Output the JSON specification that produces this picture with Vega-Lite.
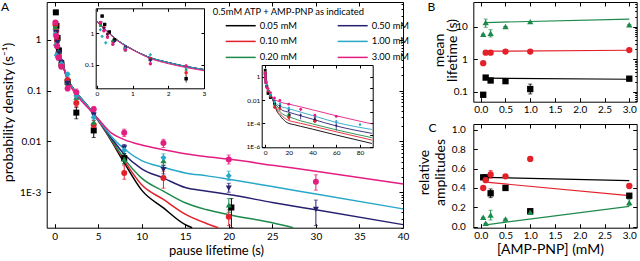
{
 "$schema": "https://vega.github.io/schema/vega-lite/v6.json",
 "width": 640, "height": 261, "autosize": "none", "padding": 0,
 "background": "white",
 "config": {
   "view": {"stroke": null},
   "font": "Lato",
   "axis": {"grid": false, "domainColor": "#000000", "tickColor": "#000000", "labelColor": "#000000", "titleColor": "#000000", "labelFont": "Lato", "titleFont": "Lato", "titleFontWeight": "normal", "labelOverlap": false, "labelFlush": false, "domainWidth": 1, "tickWidth": 1},
   "legend": {"labelFont": "Lato", "titleFont": "Lato"}
 },
 "datasets": {
  "curves": [
   {"c":"0.05 mM","t":0,"v":2.4},{"c":"0.05 mM","t":0.25,"v":1.3},{"c":"0.05 mM","t":0.5,"v":0.7},{"c":"0.05 mM","t":0.75,"v":0.45},{"c":"0.05 mM","t":1,"v":0.31},{"c":"0.05 mM","t":1.5,"v":0.17},{"c":"0.05 mM","t":2,"v":0.12},{"c":"0.05 mM","t":2.5,"v":0.09},{"c":"0.05 mM","t":3,"v":0.072},{"c":"0.05 mM","t":4,"v":0.045},{"c":"0.05 mM","t":5,"v":0.026},{"c":"0.05 mM","t":6.5,"v":0.0104},{"c":"0.05 mM","t":8,"v":0.0038},{"c":"0.05 mM","t":10,"v":0.0011},{"c":"0.05 mM","t":12.5,"v":0.00049},{"c":"0.05 mM","t":15,"v":0.00023},{"c":"0.05 mM","t":15.8,"v":0.0002},{"c":"0.05 mM","t":17.5,"v":0.000135},{"c":"0.05 mM","t":20,"v":0.0001},{"c":"0.05 mM","t":25,"v":0.000075},{"c":"0.05 mM","t":30,"v":0.000056},{"c":"0.05 mM","t":40,"v":0.000032},{"c":"0.05 mM","t":60,"v":0.00001},{"c":"0.05 mM","t":90,"v":0.0000019},
   {"c":"0.10 mM","t":0,"v":2.4},{"c":"0.10 mM","t":0.25,"v":1.3},{"c":"0.10 mM","t":0.5,"v":0.7},{"c":"0.10 mM","t":0.75,"v":0.45},{"c":"0.10 mM","t":1,"v":0.31},{"c":"0.10 mM","t":1.5,"v":0.17},{"c":"0.10 mM","t":2,"v":0.12},{"c":"0.10 mM","t":2.5,"v":0.09},{"c":"0.10 mM","t":3,"v":0.072},{"c":"0.10 mM","t":4,"v":0.045},{"c":"0.10 mM","t":5,"v":0.026},{"c":"0.10 mM","t":6.5,"v":0.0108},{"c":"0.10 mM","t":8,"v":0.0042},{"c":"0.10 mM","t":10,"v":0.0014},{"c":"0.10 mM","t":12.5,"v":0.00072},{"c":"0.10 mM","t":15,"v":0.00037},{"c":"0.10 mM","t":17.5,"v":0.00024},{"c":"0.10 mM","t":18.8,"v":0.0002},{"c":"0.10 mM","t":20,"v":0.000175},{"c":"0.10 mM","t":25,"v":0.00013},{"c":"0.10 mM","t":30,"v":0.0001},{"c":"0.10 mM","t":40,"v":0.000058},{"c":"0.10 mM","t":60,"v":0.000019},{"c":"0.10 mM","t":90,"v":0.0000037},
   {"c":"0.20 mM","t":0,"v":2.4},{"c":"0.20 mM","t":0.25,"v":1.3},{"c":"0.20 mM","t":0.5,"v":0.7},{"c":"0.20 mM","t":0.75,"v":0.45},{"c":"0.20 mM","t":1,"v":0.31},{"c":"0.20 mM","t":1.5,"v":0.17},{"c":"0.20 mM","t":2,"v":0.12},{"c":"0.20 mM","t":2.5,"v":0.09},{"c":"0.20 mM","t":3,"v":0.072},{"c":"0.20 mM","t":4,"v":0.045},{"c":"0.20 mM","t":5,"v":0.027},{"c":"0.20 mM","t":6.5,"v":0.011},{"c":"0.20 mM","t":8,"v":0.0046},{"c":"0.20 mM","t":10,"v":0.0019},{"c":"0.20 mM","t":12.5,"v":0.00105},{"c":"0.20 mM","t":15,"v":0.00062},{"c":"0.20 mM","t":17.5,"v":0.00045},{"c":"0.20 mM","t":20,"v":0.00036},{"c":"0.20 mM","t":25,"v":0.00025},{"c":"0.20 mM","t":27.4,"v":0.0002},{"c":"0.20 mM","t":30,"v":0.000165},{"c":"0.20 mM","t":40,"v":0.00009},{"c":"0.20 mM","t":60,"v":0.000028},{"c":"0.20 mM","t":90,"v":0.000006},
   {"c":"0.50 mM","t":0,"v":2.4},{"c":"0.50 mM","t":0.25,"v":1.3},{"c":"0.50 mM","t":0.5,"v":0.7},{"c":"0.50 mM","t":0.75,"v":0.45},{"c":"0.50 mM","t":1,"v":0.31},{"c":"0.50 mM","t":1.5,"v":0.17},{"c":"0.50 mM","t":2,"v":0.12},{"c":"0.50 mM","t":2.5,"v":0.09},{"c":"0.50 mM","t":3,"v":0.072},{"c":"0.50 mM","t":4,"v":0.045},{"c":"0.50 mM","t":5,"v":0.027},{"c":"0.50 mM","t":6.5,"v":0.0118},{"c":"0.50 mM","t":8,"v":0.0056},{"c":"0.50 mM","t":10,"v":0.0029},{"c":"0.50 mM","t":12.5,"v":0.0019},{"c":"0.50 mM","t":15,"v":0.00124},{"c":"0.50 mM","t":17.5,"v":0.00105},{"c":"0.50 mM","t":20,"v":0.0009},{"c":"0.50 mM","t":25,"v":0.00063},{"c":"0.50 mM","t":30,"v":0.00045},{"c":"0.50 mM","t":40,"v":0.00023},{"c":"0.50 mM","t":60,"v":0.00006},{"c":"0.50 mM","t":90,"v":0.000014},
   {"c":"1.00 mM","t":0,"v":2.4},{"c":"1.00 mM","t":0.25,"v":1.3},{"c":"1.00 mM","t":0.5,"v":0.7},{"c":"1.00 mM","t":0.75,"v":0.45},{"c":"1.00 mM","t":1,"v":0.31},{"c":"1.00 mM","t":1.5,"v":0.17},{"c":"1.00 mM","t":2,"v":0.12},{"c":"1.00 mM","t":2.5,"v":0.09},{"c":"1.00 mM","t":3,"v":0.072},{"c":"1.00 mM","t":4,"v":0.045},{"c":"1.00 mM","t":5,"v":0.027},{"c":"1.00 mM","t":6.5,"v":0.0127},{"c":"1.00 mM","t":8,"v":0.0071},{"c":"1.00 mM","t":10,"v":0.0042},{"c":"1.00 mM","t":12.5,"v":0.0031},{"c":"1.00 mM","t":15,"v":0.0024},{"c":"1.00 mM","t":17.5,"v":0.0021},{"c":"1.00 mM","t":20,"v":0.0018},{"c":"1.00 mM","t":25,"v":0.0013},{"c":"1.00 mM","t":30,"v":0.00092},{"c":"1.00 mM","t":40,"v":0.00047},{"c":"1.00 mM","t":60,"v":0.00012},{"c":"1.00 mM","t":90,"v":0.00003},
   {"c":"3.00 mM","t":0,"v":2.3},{"c":"3.00 mM","t":0.25,"v":1.25},{"c":"3.00 mM","t":0.5,"v":0.68},{"c":"3.00 mM","t":0.75,"v":0.43},{"c":"3.00 mM","t":1,"v":0.3},{"c":"3.00 mM","t":1.5,"v":0.16},{"c":"3.00 mM","t":2,"v":0.11},{"c":"3.00 mM","t":2.5,"v":0.083},{"c":"3.00 mM","t":3,"v":0.066},{"c":"3.00 mM","t":4,"v":0.043},{"c":"3.00 mM","t":5,"v":0.028},{"c":"3.00 mM","t":6.5,"v":0.0148},{"c":"3.00 mM","t":8,"v":0.0109},{"c":"3.00 mM","t":10,"v":0.0085},{"c":"3.00 mM","t":12.5,"v":0.0069},{"c":"3.00 mM","t":15,"v":0.0057},{"c":"3.00 mM","t":17.5,"v":0.005},{"c":"3.00 mM","t":20,"v":0.0045},{"c":"3.00 mM","t":25,"v":0.0034},{"c":"3.00 mM","t":30,"v":0.0026},{"c":"3.00 mM","t":40,"v":0.00145},{"c":"3.00 mM","t":60,"v":0.00045},{"c":"3.00 mM","t":90,"v":0.00009}
  ],
  "pts": [
   {"c":"0.05 mM","t":0.15,"v":3.5,"lo":3.2,"hi":3.8},{"c":"0.05 mM","t":0.22,"v":1.9,"lo":1.7,"hi":2.1},{"c":"0.05 mM","t":0.35,"v":1.1,"lo":1.0,"hi":1.2},{"c":"0.05 mM","t":0.5,"v":0.62,"lo":0.55,"hi":0.7},{"c":"0.05 mM","t":0.8,"v":0.33,"lo":0.3,"hi":0.37},{"c":"0.05 mM","t":1.5,"v":0.15,"lo":0.13,"hi":0.17},{"c":"0.05 mM","t":2.5,"v":0.037,"lo":0.028,"hi":0.048},{"c":"0.05 mM","t":4.5,"v":0.0165,"lo":0.012,"hi":0.022},{"c":"0.05 mM","t":8,"v":0.0047,"lo":0.0036,"hi":0.0058},{"c":"0.05 mM","t":20.3,"v":0.0005,"lo":0.0002,"hi":0.00075},{"c":"0.05 mM","t":42,"v":0.00017,"lo":0.00013,"hi":0.00022},
   {"c":"0.10 mM","t":0.1,"v":2.0,"lo":1.8,"hi":2.2},{"c":"0.10 mM","t":0.2,"v":1.5,"lo":1.35,"hi":1.65},{"c":"0.10 mM","t":0.3,"v":0.95,"lo":0.85,"hi":1.05},{"c":"0.10 mM","t":0.45,"v":0.55,"lo":0.5,"hi":0.6},{"c":"0.10 mM","t":0.8,"v":0.32,"lo":0.29,"hi":0.35},{"c":"0.10 mM","t":1.5,"v":0.16,"lo":0.14,"hi":0.18},{"c":"0.10 mM","t":2.5,"v":0.057,"lo":0.047,"hi":0.068},{"c":"0.10 mM","t":4.5,"v":0.021,"lo":0.017,"hi":0.026},{"c":"0.10 mM","t":8,"v":0.0024,"lo":0.0018,"hi":0.0034},{"c":"0.10 mM","t":12.5,"v":0.0019,"lo":0.0012,"hi":0.0026},{"c":"0.10 mM","t":20,"v":0.00033,"lo":0.00022,"hi":0.00045},{"c":"0.10 mM","t":42,"v":0.00015,"lo":0.00011,"hi":0.0002},
   {"c":"0.20 mM","t":0.1,"v":1.8,"lo":1.6,"hi":2.0},{"c":"0.20 mM","t":0.2,"v":1.3,"lo":1.15,"hi":1.45},{"c":"0.20 mM","t":0.3,"v":0.85,"lo":0.75,"hi":0.95},{"c":"0.20 mM","t":0.45,"v":0.6,"lo":0.53,"hi":0.67},{"c":"0.20 mM","t":0.8,"v":0.3,"lo":0.27,"hi":0.33},{"c":"0.20 mM","t":1.5,"v":0.15,"lo":0.13,"hi":0.17},{"c":"0.20 mM","t":2.5,"v":0.075,"lo":0.065,"hi":0.085},{"c":"0.20 mM","t":4.5,"v":0.024,"lo":0.02,"hi":0.028},{"c":"0.20 mM","t":8,"v":0.0045,"lo":0.0037,"hi":0.0055},{"c":"0.20 mM","t":12.5,"v":0.0042,"lo":0.0034,"hi":0.005},{"c":"0.20 mM","t":20,"v":0.00056,"lo":0.0004,"hi":0.00075},
   {"c":"0.50 mM","t":0.12,"v":2.1,"lo":1.9,"hi":2.3},{"c":"0.50 mM","t":0.2,"v":1.4,"lo":1.25,"hi":1.55},{"c":"0.50 mM","t":0.3,"v":0.9,"lo":0.8,"hi":1.0},{"c":"0.50 mM","t":0.5,"v":0.55,"lo":0.5,"hi":0.6},{"c":"0.50 mM","t":0.8,"v":0.36,"lo":0.33,"hi":0.4},{"c":"0.50 mM","t":1.5,"v":0.14,"lo":0.125,"hi":0.155},{"c":"0.50 mM","t":2.5,"v":0.085,"lo":0.075,"hi":0.095},{"c":"0.50 mM","t":4.5,"v":0.033,"lo":0.029,"hi":0.037},{"c":"0.50 mM","t":8,"v":0.0075,"lo":0.0065,"hi":0.0087},{"c":"0.50 mM","t":12.5,"v":0.0028,"lo":0.0023,"hi":0.0034},{"c":"0.50 mM","t":20,"v":0.0012,"lo":0.001,"hi":0.0015},{"c":"0.50 mM","t":30,"v":0.00046,"lo":0.00022,"hi":0.0007},{"c":"0.50 mM","t":42,"v":0.00025,"lo":0.00012,"hi":0.0004},{"c":"0.50 mM","t":60,"v":0.00006,"lo":0.000025,"hi":0.00012},
   {"c":"1.00 mM","t":0.1,"v":1.3,"lo":1.2,"hi":1.4},{"c":"1.00 mM","t":0.15,"v":0.8,"lo":0.72,"hi":0.88},{"c":"1.00 mM","t":0.25,"v":0.5,"lo":0.45,"hi":0.55},{"c":"1.00 mM","t":0.45,"v":0.45,"lo":0.4,"hi":0.5},{"c":"1.00 mM","t":0.8,"v":0.34,"lo":0.3,"hi":0.38},{"c":"1.00 mM","t":1.5,"v":0.21,"lo":0.19,"hi":0.23},{"c":"1.00 mM","t":2.5,"v":0.08,"lo":0.07,"hi":0.09},{"c":"1.00 mM","t":4.5,"v":0.03,"lo":0.026,"hi":0.034},{"c":"1.00 mM","t":8,"v":0.0068,"lo":0.0058,"hi":0.008},{"c":"1.00 mM","t":12.5,"v":0.0048,"lo":0.004,"hi":0.0057},{"c":"1.00 mM","t":20,"v":0.0021,"lo":0.0017,"hi":0.0026},{"c":"1.00 mM","t":60,"v":0.00015,"lo":0.00011,"hi":0.0002},{"c":"1.00 mM","t":80,"v":0.00008,"lo":0.00006,"hi":0.0001},
   {"c":"3.00 mM","t":0.1,"v":2.2,"lo":2.0,"hi":2.4},{"c":"3.00 mM","t":0.2,"v":1.2,"lo":1.08,"hi":1.32},{"c":"3.00 mM","t":0.3,"v":0.75,"lo":0.68,"hi":0.82},{"c":"3.00 mM","t":0.45,"v":0.45,"lo":0.4,"hi":0.5},{"c":"3.00 mM","t":0.8,"v":0.3,"lo":0.27,"hi":0.33},{"c":"3.00 mM","t":1.5,"v":0.11,"lo":0.1,"hi":0.125},{"c":"3.00 mM","t":2.5,"v":0.093,"lo":0.08,"hi":0.108},{"c":"3.00 mM","t":4.5,"v":0.043,"lo":0.038,"hi":0.049},{"c":"3.00 mM","t":8,"v":0.0148,"lo":0.0125,"hi":0.0175},{"c":"3.00 mM","t":12.5,"v":0.0093,"lo":0.0076,"hi":0.011},{"c":"3.00 mM","t":20,"v":0.0044,"lo":0.0036,"hi":0.0054},{"c":"3.00 mM","t":30,"v":0.0016,"lo":0.0011,"hi":0.0022},{"c":"3.00 mM","t":42,"v":0.0005,"lo":0.0004,"hi":0.0006},{"c":"3.00 mM","t":60,"v":0.0004,"lo":0.0003,"hi":0.0005}
  ],
  "bc": [
   {"p":"B","comp":"slow","x":0.05,"v":5.8,"lo":5.8,"hi":5.8},{"p":"B","comp":"slow","x":0.1,"v":13.3,"lo":9.5,"hi":17},{"p":"B","comp":"slow","x":0.2,"v":6.2,"lo":4.8,"hi":8},{"p":"B","comp":"slow","x":0.5,"v":10,"lo":10,"hi":10},{"p":"B","comp":"slow","x":1.0,"v":14.2,"lo":14.2,"hi":14.2},{"p":"B","comp":"slow","x":3.0,"v":11.3,"lo":11.3,"hi":11.3},
   {"p":"B","comp":"mid","x":0.05,"v":0.75,"lo":0.75,"hi":0.75},{"p":"B","comp":"mid","x":0.1,"v":1.58,"lo":1.58,"hi":1.58},{"p":"B","comp":"mid","x":0.2,"v":1.58,"lo":1.58,"hi":1.58},{"p":"B","comp":"mid","x":0.5,"v":1.7,"lo":1.7,"hi":1.7},{"p":"B","comp":"mid","x":1.0,"v":1.7,"lo":1.7,"hi":1.7},{"p":"B","comp":"mid","x":3.0,"v":1.9,"lo":1.9,"hi":1.9},
   {"p":"B","comp":"fast","x":0.05,"v":0.08,"lo":0.08,"hi":0.08},{"p":"B","comp":"fast","x":0.1,"v":0.27,"lo":0.27,"hi":0.27},{"p":"B","comp":"fast","x":0.2,"v":0.22,"lo":0.19,"hi":0.25},{"p":"B","comp":"fast","x":0.5,"v":0.21,"lo":0.21,"hi":0.21},{"p":"B","comp":"fast","x":1.0,"v":0.12,"lo":0.085,"hi":0.17},{"p":"B","comp":"fast","x":3.0,"v":0.25,"lo":0.23,"hi":0.27},
   {"p":"C","comp":"fast","x":0.05,"v":0.51,"lo":0.51,"hi":0.51},{"p":"C","comp":"fast","x":0.1,"v":0.51,"lo":0.51,"hi":0.51},{"p":"C","comp":"fast","x":0.2,"v":0.345,"lo":0.3,"hi":0.39},{"p":"C","comp":"fast","x":0.5,"v":0.4,"lo":0.4,"hi":0.4},{"p":"C","comp":"fast","x":1.0,"v":0.16,"lo":0.14,"hi":0.18},{"p":"C","comp":"fast","x":3.0,"v":0.32,"lo":0.3,"hi":0.34},
   {"p":"C","comp":"mid","x":0.05,"v":0.4,"lo":0.4,"hi":0.4},{"p":"C","comp":"mid","x":0.1,"v":0.48,"lo":0.48,"hi":0.48},{"p":"C","comp":"mid","x":0.2,"v":0.54,"lo":0.5,"hi":0.58},{"p":"C","comp":"mid","x":0.5,"v":0.52,"lo":0.52,"hi":0.52},{"p":"C","comp":"mid","x":1.0,"v":0.7,"lo":0.68,"hi":0.72},{"p":"C","comp":"mid","x":3.0,"v":0.42,"lo":0.4,"hi":0.44},
   {"p":"C","comp":"slow","x":0.05,"v":0.097,"lo":0.097,"hi":0.097},{"p":"C","comp":"slow","x":0.1,"v":0.035,"lo":0.035,"hi":0.035},{"p":"C","comp":"slow","x":0.2,"v":0.12,"lo":0.07,"hi":0.17},{"p":"C","comp":"slow","x":0.5,"v":0.08,"lo":0.08,"hi":0.08},{"p":"C","comp":"slow","x":1.0,"v":0.15,"lo":0.15,"hi":0.15},{"p":"C","comp":"slow","x":3.0,"v":0.25,"lo":0.22,"hi":0.28}
  ],
  "bcfit": [
   {"p":"B","comp":"slow","x":0.1,"v":13.3},{"p":"B","comp":"slow","x":3.0,"v":17},
   {"p":"B","comp":"mid","x":0.1,"v":1.75},{"p":"B","comp":"mid","x":3.0,"v":1.87},
   {"p":"B","comp":"fast","x":0.1,"v":0.26},{"p":"B","comp":"fast","x":3.0,"v":0.24},
   {"p":"C","comp":"fast","x":0.1,"v":0.51},{"p":"C","comp":"fast","x":3.0,"v":0.475},
   {"p":"C","comp":"mid","x":0.1,"v":0.46},{"p":"C","comp":"mid","x":3.0,"v":0.32},
   {"p":"C","comp":"slow","x":0.1,"v":0.02},{"p":"C","comp":"slow","x":3.0,"v":0.21}
  ]
 },
 "resolve": {"scale": {"x": "independent", "y": "independent", "color": "independent", "shape": "independent"}},
 "layer": [
  {
   "data": {"name": "curves"},
   "transform": [{"filter": "datum.t <= 40 && datum.v >= 0.0002"}],
   "mark": {"type": "line", "interpolate": "monotone", "strokeWidth": 1.5},
   "encoding": {
    "x": {"field": "t", "type": "quantitative", "scale": {"domain": [-0.9, 40], "range": [46.7, 403], "nice": false, "zero": false},
          "axis": {"orient": "bottom", "offset": -33.3, "values": [0,5,10,15,20,25,30,35,40], "tickSize": -4, "labelPadding": 8, "labelFontSize": 10, "title": "pause lifetime (s)", "titleFontSize": 13, "titlePadding": 3, "titleX": 216}},
    "y": {"field": "v", "type": "quantitative", "scale": {"type": "log", "domain": [0.0002, 5.6], "range": [227.7, 2], "nice": false},
          "axis": {"orient": "left", "offset": -46.7, "values": [0.001, 0.01, 0.1, 1], "labelExpr": "datum.value == 0.001 ? '1E-3' : datum.value == 0.01 ? '0.01' : datum.value == 0.1 ? '0.1' : '1'", "tickSize": -4, "labelPadding": 10, "labelFontSize": 10, "title": "probability density (s⁻¹)", "titleFontSize": 14, "titleX": -38.5, "titleY": 112, "titleAngle": -90, "titleAlign": "center", "titleBaseline": "middle"}},
    "color": {"field": "c", "type": "nominal",
              "scale": {"domain": ["0.05 mM","0.10 mM","0.20 mM","0.50 mM","1.00 mM","3.00 mM"], "range": ["#000000","#e4202a","#1d8a4c","#27206f","#28a8c8","#e41d80"]},
              "legend": {"orient": "none", "legendX": 212.7, "legendY": 8, "title": "0.5mM ATP + AMP-PNP as indicated", "titleLimit": 400, "titleFontSize": 9.4, "titleFontWeight": "normal", "titleColor": "#000000", "labelColor": "#000000", "labelFontSize": 9.4, "labelLimit": 200, "symbolType": "M-3,0H3", "symbolSize": 100, "symbolStrokeWidth": 1.5, "symbolFillColor": "transparent", "columns": 2, "columnPadding": 27, "rowPadding": 5, "symbolOffset": 22, "labelOffset": 13, "titlePadding": 2}}
   }
  },
  {
   "data": {"name": "pts"},
   "transform": [{"filter": "datum.t <= 40"}],
   "mark": {"type": "errorbar", "ticks": {"size": 4}, "thickness": 1},
   "encoding": {
    "x": {"field": "t", "type": "quantitative", "scale": {"domain": [-0.9, 40], "range": [46.7, 403], "nice": false, "zero": false},
          "axis": {"orient": "top", "offset": -2, "values": [0,5,10,15,20,25,30,35,40], "tickSize": -4, "labels": false, "title": "A", "titleX": 0.5, "titleY": 8, "titleAlign": "left", "titleAngle": 0, "titleBaseline": "alphabetic", "titleFontSize": 12}},
    "y": {"field": "lo", "type": "quantitative", "scale": {"type": "log", "domain": [0.0002, 5.6], "range": [227.7, 2], "nice": false},
          "axis": {"orient": "right", "offset": -237, "values": [0.0002,0.0003,0.0004,0.0005,0.0006,0.0007,0.0008,0.0009,0.001,0.002,0.003,0.004,0.005,0.006,0.007,0.008,0.009,0.01,0.02,0.03,0.04,0.05,0.06,0.07,0.08,0.09,0.1,0.2,0.3,0.4,0.5,0.6,0.7,0.8,0.9,1,2,3,4,5], "tickSize": {"condition": {"test": "datum.value == 0.001 || datum.value == 0.01 || datum.value == 0.1 || datum.value == 1", "value": -4}, "value": -2}, "labels": false, "title": null}},
    "y2": {"field": "hi"},
    "color": {"field": "c", "type": "nominal", "scale": {"domain": ["0.05 mM","0.10 mM","0.20 mM","0.50 mM","1.00 mM","3.00 mM"], "range": ["#000000","#e4202a","#1d8a4c","#27206f","#28a8c8","#e41d80"]}, "legend": null}
   }
  },
  {
   "data": {"name": "pts"},
   "transform": [{"filter": "datum.t <= 40"}],
   "mark": {"type": "point", "filled": true, "size": 36, "opacity": 1},
   "encoding": {
    "x": {"field": "t", "type": "quantitative", "scale": {"domain": [-0.9, 40], "range": [46.7, 403], "nice": false, "zero": false}, "axis": null},
    "y": {"field": "v", "type": "quantitative", "scale": {"type": "log", "domain": [0.0002, 5.6], "range": [227.7, 2], "nice": false}, "axis": null},
    "color": {"field": "c", "type": "nominal", "scale": {"domain": ["0.05 mM","0.10 mM","0.20 mM","0.50 mM","1.00 mM","3.00 mM"], "range": ["#000000","#e4202a","#1d8a4c","#27206f","#28a8c8","#e41d80"]}, "legend": null},
    "shape": {"field": "c", "type": "nominal", "scale": {"domain": ["0.05 mM","0.10 mM","0.20 mM","0.50 mM","1.00 mM","3.00 mM"], "range": ["square","circle","triangle-up","triangle-down","diamond","circle"]}, "legend": null}
   }
  },
  {
   "data": {"name": "curves"},
   "transform": [{"filter": "datum.t <= 3"}],
   "mark": {"type": "line", "interpolate": "monotone", "strokeWidth": 1},
   "encoding": {
    "x": {"field": "t", "type": "quantitative", "scale": {"domain": [-0.03, 3], "range": [95.7, 204], "nice": false, "zero": false},
          "axis": {"orient": "bottom", "offset": -172.7, "values": [0,1,2,3], "tickSize": -3, "labelPadding": 5, "labelFontSize": 6.5, "title": null}},
    "y": {"field": "v", "type": "quantitative", "scale": {"type": "log", "domain": [0.0184, 6.15], "range": [88.3, 8.3], "nice": false},
          "axis": {"orient": "left", "offset": -95.7, "values": [0.1, 1], "tickSize": -3, "labelPadding": 5, "labelFontSize": 6.5, "title": null}},
    "color": {"field": "c", "type": "nominal", "scale": {"domain": ["0.05 mM","0.10 mM","0.20 mM","0.50 mM","1.00 mM","3.00 mM"], "range": ["#000000","#e4202a","#1d8a4c","#27206f","#28a8c8","#e41d80"]}, "legend": null}
   }
  },
  {
   "data": {"name": "pts"},
   "transform": [{"filter": "datum.t <= 3"}],
   "mark": {"type": "errorbar", "thickness": 0.8},
   "encoding": {
    "x": {"field": "t", "type": "quantitative", "scale": {"domain": [-0.03, 3], "range": [95.7, 204], "nice": false, "zero": false},
          "axis": {"orient": "top", "offset": -8.3, "values": [0,1,2,3], "tickSize": -3, "labels": false, "title": null}},
    "y": {"field": "lo", "type": "quantitative", "scale": {"type": "log", "domain": [0.0184, 6.15], "range": [88.3, 8.3], "nice": false},
          "axis": {"orient": "right", "offset": -436, "values": [0.1, 1], "tickSize": -3, "labels": false, "title": null}},
    "y2": {"field": "hi"},
    "color": {"field": "c", "type": "nominal", "scale": {"domain": ["0.05 mM","0.10 mM","0.20 mM","0.50 mM","1.00 mM","3.00 mM"], "range": ["#000000","#e4202a","#1d8a4c","#27206f","#28a8c8","#e41d80"]}, "legend": null}
   }
  },
  {
   "data": {"name": "pts"},
   "transform": [{"filter": "datum.t <= 3"}],
   "mark": {"type": "point", "filled": true, "size": 12, "opacity": 1},
   "encoding": {
    "x": {"field": "t", "type": "quantitative", "scale": {"domain": [-0.03, 3], "range": [95.7, 204], "nice": false, "zero": false}, "axis": null},
    "y": {"field": "v", "type": "quantitative", "scale": {"type": "log", "domain": [0.0184, 6.15], "range": [88.3, 8.3], "nice": false}, "axis": null},
    "color": {"field": "c", "type": "nominal", "scale": {"domain": ["0.05 mM","0.10 mM","0.20 mM","0.50 mM","1.00 mM","3.00 mM"], "range": ["#000000","#e4202a","#1d8a4c","#27206f","#28a8c8","#e41d80"]}, "legend": null},
    "shape": {"field": "c", "type": "nominal", "scale": {"domain": ["0.05 mM","0.10 mM","0.20 mM","0.50 mM","1.00 mM","3.00 mM"], "range": ["square","circle","triangle-up","triangle-down","diamond","circle"]}, "legend": null}
   }
  },
  {
   "data": {"name": "curves"},
   "mark": {"type": "line", "interpolate": "monotone", "strokeWidth": 0.9},
   "encoding": {
    "x": {"field": "t", "type": "quantitative", "scale": {"domain": [-2.8, 90.7], "range": [261.7, 372.7], "nice": false, "zero": false},
          "axis": {"orient": "bottom", "offset": -113.7, "values": [0,20,40,60,80], "tickSize": -3, "labelPadding": 5, "labelFontSize": 6.5, "title": null}},
    "y": {"field": "v", "type": "quantitative", "scale": {"type": "log", "domain": [0.00000089, 10], "range": [147.3, 65], "nice": false},
          "axis": {"orient": "left", "offset": -261.7, "values": [0.000001, 0.0001, 0.01, 1], "labelExpr": "datum.value == 0.000001 ? '1E-6' : datum.value == 0.0001 ? '1E-4' : datum.value == 0.01 ? '0.01' : '1'", "tickSize": -3, "labelPadding": 5, "labelFontSize": 6.5, "title": null}},
    "color": {"field": "c", "type": "nominal", "scale": {"domain": ["0.05 mM","0.10 mM","0.20 mM","0.50 mM","1.00 mM","3.00 mM"], "range": ["#000000","#e4202a","#1d8a4c","#27206f","#28a8c8","#e41d80"]}, "legend": null}
   }
  },
  {
   "data": {"name": "pts"},
   "mark": {"type": "errorbar", "thickness": 0.8},
   "encoding": {
    "x": {"field": "t", "type": "quantitative", "scale": {"domain": [-2.8, 90.7], "range": [261.7, 372.7], "nice": false, "zero": false},
          "axis": {"orient": "top", "offset": -65, "values": [0,20,40,60,80], "tickSize": -3, "labels": false, "title": null}},
    "y": {"field": "lo", "type": "quantitative", "scale": {"type": "log", "domain": [0.00000089, 10], "range": [147.3, 65], "nice": false},
          "axis": {"orient": "right", "offset": -267.3, "values": [0.000001, 0.00001, 0.0001, 0.001, 0.01, 0.1, 1], "tickSize": -3, "labels": false, "title": null}},
    "y2": {"field": "hi"},
    "color": {"field": "c", "type": "nominal", "scale": {"domain": ["0.05 mM","0.10 mM","0.20 mM","0.50 mM","1.00 mM","3.00 mM"], "range": ["#000000","#e4202a","#1d8a4c","#27206f","#28a8c8","#e41d80"]}, "legend": null}
   }
  },
  {
   "data": {"name": "pts"},
   "mark": {"type": "point", "filled": true, "size": 8, "opacity": 1},
   "encoding": {
    "x": {"field": "t", "type": "quantitative", "scale": {"domain": [-2.8, 90.7], "range": [261.7, 372.7], "nice": false, "zero": false}, "axis": null},
    "y": {"field": "v", "type": "quantitative", "scale": {"type": "log", "domain": [0.00000089, 10], "range": [147.3, 65], "nice": false}, "axis": null},
    "color": {"field": "c", "type": "nominal", "scale": {"domain": ["0.05 mM","0.10 mM","0.20 mM","0.50 mM","1.00 mM","3.00 mM"], "range": ["#000000","#e4202a","#1d8a4c","#27206f","#28a8c8","#e41d80"]}, "legend": null},
    "shape": {"field": "c", "type": "nominal", "scale": {"domain": ["0.05 mM","0.10 mM","0.20 mM","0.50 mM","1.00 mM","3.00 mM"], "range": ["square","circle","triangle-up","triangle-down","diamond","circle"]}, "legend": null}
   }
  },
  {
   "data": {"name": "bcfit"},
   "transform": [{"filter": "datum.p == 'B'"}],
   "mark": {"type": "line", "strokeWidth": 1.2},
   "encoding": {
    "x": {"field": "x", "type": "quantitative", "scale": {"domain": [-0.15, 3.15], "range": [473.3, 636.7], "nice": false, "zero": false},
          "axis": {"orient": "bottom", "offset": -159.3, "values": [0,0.5,1,1.5,2,2.5,3], "format": ".1f", "tickSize": -4, "labelPadding": 7, "labelFontSize": 10, "title": null}},
    "y": {"field": "v", "type": "quantitative", "scale": {"type": "log", "domain": [0.049, 57], "range": [101.7, 2], "nice": false},
          "axis": {"orient": "left", "offset": -473.3, "values": [0.1, 1, 10], "labelExpr": "datum.value == 0.1 ? '0.1' : datum.value == 1 ? '1' : '10'", "tickSize": -4, "labelPadding": 10, "labelFontSize": 10, "title": ["mean", "lifetime (s)"], "titleFontSize": 14, "titleLineHeight": 13, "titleX": -33.5, "titleY": 50, "titleAngle": -90, "titleAlign": "center", "titleBaseline": "middle"}},
    "color": {"field": "comp", "type": "nominal", "scale": {"domain": ["fast","mid","slow"], "range": ["#000000","#e4202a","#1d8a4c"]}, "legend": null}
   }
  },
  {
   "data": {"name": "bc"},
   "transform": [{"filter": "datum.p == 'B'"}],
   "mark": {"type": "errorbar", "ticks": {"size": 4}, "thickness": 1},
   "encoding": {
    "x": {"field": "x", "type": "quantitative", "scale": {"domain": [-0.15, 3.15], "range": [473.3, 636.7], "nice": false, "zero": false},
          "axis": {"orient": "top", "offset": -2, "values": [0,0.5,1,1.5,2,2.5,3], "tickSize": -4, "labels": false, "title": "B", "titleX": 427, "titleY": 8, "titleAlign": "left", "titleAngle": 0, "titleBaseline": "alphabetic", "titleFontSize": 12}},
    "y": {"field": "lo", "type": "quantitative", "scale": {"type": "log", "domain": [0.049, 57], "range": [101.7, 2], "nice": false},
          "axis": {"orient": "right", "offset": -3.3, "values": [0.05,0.06,0.07,0.08,0.09,0.1,0.2,0.3,0.4,0.5,0.6,0.7,0.8,0.9,1,2,3,4,5,6,7,8,9,10,20,30,40,50], "tickSize": {"condition": {"test": "datum.value == 0.1 || datum.value == 1 || datum.value == 10", "value": -4}, "value": -2}, "labels": false, "title": null}},
    "y2": {"field": "hi"},
    "color": {"field": "comp", "type": "nominal", "scale": {"domain": ["fast","mid","slow"], "range": ["#000000","#e4202a","#1d8a4c"]}, "legend": null}
   }
  },
  {
   "data": {"name": "bc"},
   "transform": [{"filter": "datum.p == 'B'"}],
   "mark": {"type": "point", "filled": true, "size": 40, "opacity": 1},
   "encoding": {
    "x": {"field": "x", "type": "quantitative", "scale": {"domain": [-0.15, 3.15], "range": [473.3, 636.7], "nice": false, "zero": false}, "axis": null},
    "y": {"field": "v", "type": "quantitative", "scale": {"type": "log", "domain": [0.049, 57], "range": [101.7, 2], "nice": false}, "axis": null},
    "color": {"field": "comp", "type": "nominal", "scale": {"domain": ["fast","mid","slow"], "range": ["#000000","#e4202a","#1d8a4c"]}, "legend": null},
    "shape": {"field": "comp", "type": "nominal", "scale": {"domain": ["fast","mid","slow"], "range": ["square","circle","triangle-up"]}, "legend": null}
   }
  },
  {
   "data": {"name": "bcfit"},
   "transform": [{"filter": "datum.p == 'C'"}],
   "mark": {"type": "line", "strokeWidth": 1.2},
   "encoding": {
    "x": {"field": "x", "type": "quantitative", "scale": {"domain": [-0.15, 3.15], "range": [473.3, 636.7], "nice": false, "zero": false},
          "axis": {"orient": "bottom", "offset": -33.3, "values": [0,0.5,1,1.5,2,2.5,3], "format": ".1f", "tickSize": -4, "labelPadding": 7, "labelFontSize": 10, "title": "[AMP-PNP] (mM)", "titleFontSize": 14, "titlePadding": 2, "titleX": 550}},
    "y": {"field": "v", "type": "quantitative", "scale": {"domain": [-0.01, 1.06], "range": [227.7, 124], "nice": false, "zero": false},
          "axis": {"orient": "left", "offset": -473.3, "values": [0,0.2,0.4,0.6,0.8,1], "format": ".1f", "tickSize": -4, "labelPadding": 12, "labelFontSize": 10, "title": ["relative", "amplitudes"], "titleFontSize": 14, "titleLineHeight": 16, "titleX": -49.3, "titleY": 172, "titleAngle": -90, "titleAlign": "center", "titleBaseline": "middle"}},
    "color": {"field": "comp", "type": "nominal", "scale": {"domain": ["fast","mid","slow"], "range": ["#000000","#e4202a","#1d8a4c"]}, "legend": null}
   }
  },
  {
   "data": {"name": "bc"},
   "transform": [{"filter": "datum.p == 'C'"}],
   "mark": {"type": "errorbar", "ticks": {"size": 4}, "thickness": 1},
   "encoding": {
    "x": {"field": "x", "type": "quantitative", "scale": {"domain": [-0.15, 3.15], "range": [473.3, 636.7], "nice": false, "zero": false},
          "axis": {"orient": "top", "offset": -124, "values": [0,0.5,1,1.5,2,2.5,3], "tickSize": -4, "labels": false, "title": "C", "titleX": 428, "titleY": 7, "titleAlign": "left", "titleAngle": 0, "titleBaseline": "alphabetic", "titleFontSize": 12}},
    "y": {"field": "lo", "type": "quantitative", "scale": {"domain": [-0.01, 1.06], "range": [227.7, 124], "nice": false, "zero": false},
          "axis": {"orient": "right", "offset": -3.3, "values": [0,0.2,0.4,0.6,0.8,1], "tickSize": -4, "labels": false, "title": null}},
    "y2": {"field": "hi"},
    "color": {"field": "comp", "type": "nominal", "scale": {"domain": ["fast","mid","slow"], "range": ["#000000","#e4202a","#1d8a4c"]}, "legend": null}
   }
  },
  {
   "data": {"name": "bc"},
   "transform": [{"filter": "datum.p == 'C'"}],
   "mark": {"type": "point", "filled": true, "size": 40, "opacity": 1},
   "encoding": {
    "x": {"field": "x", "type": "quantitative", "scale": {"domain": [-0.15, 3.15], "range": [473.3, 636.7], "nice": false, "zero": false}, "axis": null},
    "y": {"field": "v", "type": "quantitative", "scale": {"domain": [-0.01, 1.06], "range": [227.7, 124], "nice": false, "zero": false}, "axis": null},
    "color": {"field": "comp", "type": "nominal", "scale": {"domain": ["fast","mid","slow"], "range": ["#000000","#e4202a","#1d8a4c"]}, "legend": null},
    "shape": {"field": "comp", "type": "nominal", "scale": {"domain": ["fast","mid","slow"], "range": ["square","circle","triangle-up"]}, "legend": null}
   }
  }
 ]
}
